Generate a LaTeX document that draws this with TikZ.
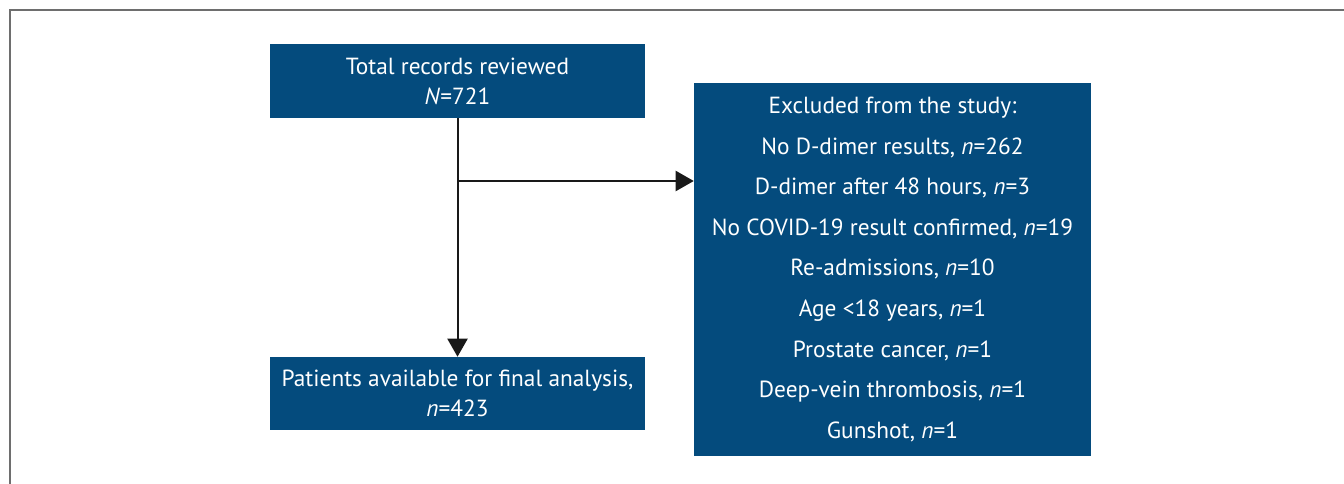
\documentclass[tikz,border=0pt]{standalone}
\usepackage{fontspec}
\setmainfont{PT Sans}
\usetikzlibrary{arrows.meta}
\definecolor{boxblue}{RGB}{4,75,125}
\definecolor{framegray}{RGB}{110,110,110}
\tikzset{
    flowbox/.style={fill=boxblue, text=white, align=center, inner sep=0pt,
        font=\fontsize{17.5}{22.5}\selectfont},
    flowarrow/.style={line width=1.5pt, draw=black!90,
        -{Triangle[length=13.5pt,width=15pt]}},
}
\begin{document}
\begin{tikzpicture}[x=0.75pt,y=-0.75pt]
    \useasboundingbox (0,0) rectangle (1344,484);
    \draw[framegray, line width=1.2pt] (10,484) -- (10,10) -- (1344,10);
    \node[flowbox, minimum width=281.25pt, minimum height=55.5pt] (total) at (457.5,81)
        {Total records reviewed\\\textit{N}=721};
    \node[flowbox, minimum width=281.25pt, minimum height=54.75pt] (final) at (457.5,393.5)
        {Patients available for final analysis,\\\textit{n}=423};
    \node[flowbox, minimum width=297.75pt, minimum height=279.75pt,
        font=\fontsize{17.5}{30.4}\selectfont] (excl) at (892.5,269.5)
        {Excluded from the study:\\
         No D-dimer results, \textit{n}=262\\
         D-dimer after 48 hours, \textit{n}=3\\
         No COVID-19 result confirmed, \textit{n}=19\\
         Re-admissions, \textit{n}=10\\
         Age <18 years, \textit{n}=1\\
         Prostate cancer, \textit{n}=1\\
         Deep-vein thrombosis, \textit{n}=1\\
         Gunshot, \textit{n}=1};
    \coordinate (branch) at (457.5,181);
    \draw[flowarrow] (total.south) -- (final.north);
    \draw[flowarrow] (branch) -- (branch -| excl.west);
\end{tikzpicture}
\end{document}
